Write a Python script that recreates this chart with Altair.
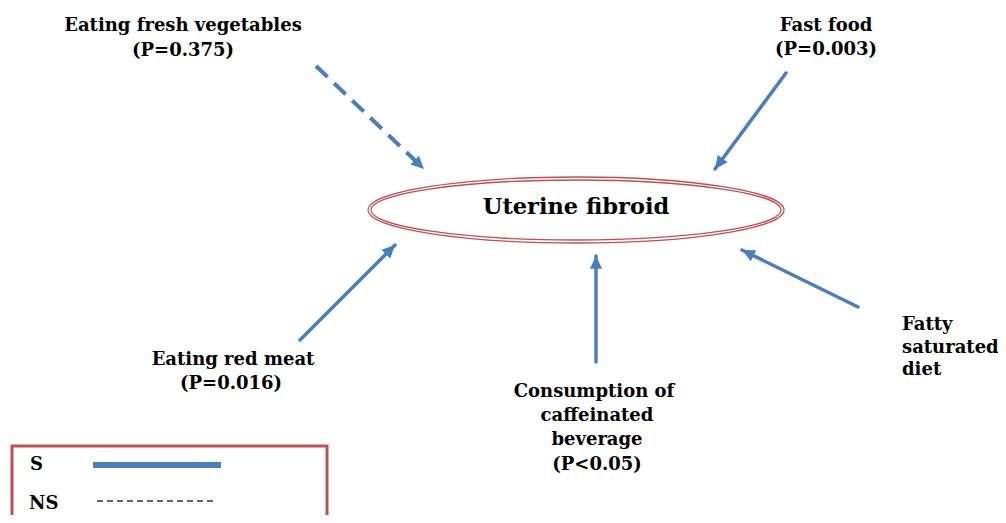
import math
import altair as alt
import pandas as pd

# ---- diagram content (page-pixel coordinates of the reference) ----
arrow_names = ["Eating fresh vegetables", "Fast food", "Fatty saturated diet",
               "Consumption of caffeinated beverage", "Eating red meat"]
arrow_x1 = [316, 786, 858, 596, 300]
arrow_y1 = [66, 73, 307, 362, 340]
arrow_x2 = [424, 715, 742, 596, 395]
arrow_y2 = [169, 169, 250, 256, 245]
arrow_sig = ["NS", "S", "S", "S", "S"]

label_text = ["Eating fresh vegetables", "(P=0.375)", "Fast food", "(P=0.003)",
              "Eating red meat", "(P=0.016)", "Consumption of", "caffeinated",
              "beverage", "(P<0.05)", "Fatty", "saturated", "diet"]
label_x = [183, 183, 826, 826, 233, 231, 594, 597, 597, 597, 902, 902, 902]
label_y = [25.5, 50.5, 25.5, 49.5, 359.5, 383.5, 391.5, 415.5, 439.5, 464.5, 324.5, 347.5, 369.5]
label_align = ["center"] * 10 + ["left"] * 3

center_text = ["Uterine fibroid"]
center_x = [576]
center_y = [207]

legend_keys = ["S", "NS"]
legend_key_x = [30, 29]
legend_key_y = [465, 504]
legend_line_x1 = [93, 97]
legend_line_x2 = [221, 216]
legend_line_y = [465, 501]

BLUE = "#4a7ebf"
RED = "#c0504d"
FONT = "DejaVu Serif"
FS = 18

X = alt.Scale(domain=[8, 998])
Y = alt.Scale(domain=[8, 515], reverse=True)

arrows = pd.DataFrame({"name": arrow_names, "x1": arrow_x1, "y1": arrow_y1,
                       "x2": arrow_x2, "y2": arrow_y2, "sig": arrow_sig})
arrows["angle"] = [
    math.degrees(math.atan2(x2 - x1, -(y2 - y1))) % 360
    for x1, y1, x2, y2 in zip(arrow_x1, arrow_y1, arrow_x2, arrow_y2)
]
labels = pd.DataFrame({"t": label_text, "x": label_x, "y": label_y, "align": label_align})
center = pd.DataFrame({"t": center_text, "x": center_x, "y": center_y})
legend = pd.DataFrame({"k": legend_keys, "x": legend_key_x, "y": legend_key_y,
                       "lx1": legend_line_x1, "lx2": legend_line_x2, "ly": legend_line_y})

enc_xy = dict(x=alt.X("x1:Q", scale=X, axis=None), y=alt.Y("y1:Q", scale=Y, axis=None),
              x2="x2:Q", y2="y2:Q")

solid = alt.Chart(arrows).transform_filter(alt.datum.sig == "S").mark_rule(
    color=BLUE, strokeWidth=3.5, strokeCap="round").encode(**enc_xy)
dashed = alt.Chart(arrows).transform_filter(alt.datum.sig == "NS").mark_rule(
    color=BLUE, strokeWidth=4, strokeDash=[16, 9], strokeCap="butt").encode(**enc_xy)

heads = alt.Chart(arrows).mark_point(
    shape="M0,0 L-1,2.1 L1,2.1 Z", filled=True, color=BLUE, opacity=1, size=150
).encode(x=alt.X("x2:Q", scale=X, axis=None), y=alt.Y("y2:Q", scale=Y, axis=None),
         angle=alt.Angle("angle:Q", scale=None))

ell_df = pd.DataFrame({"x": center_x, "y": [210]})
outer = alt.Chart(ell_df).mark_point(
    shape="M-1,0 A1,0.1587 0 1,1 1,0 A1,0.1587 0 1,1 -1,0 Z",
    filled=False, color=RED, strokeWidth=1.3, opacity=1, size=416 ** 2
).encode(x=alt.X("x:Q", scale=X, axis=None), y=alt.Y("y:Q", scale=Y, axis=None))
inner = alt.Chart(ell_df).mark_point(
    shape="M-1,0 A1,0.1463 0 1,1 1,0 A1,0.1463 0 1,1 -1,0 Z",
    filled=False, color=RED, strokeWidth=1.3, opacity=1, size=410 ** 2
).encode(x=alt.X("x:Q", scale=X, axis=None), y=alt.Y("y:Q", scale=Y, axis=None))

lab_c = alt.Chart(labels).transform_filter(alt.datum.align == "center").mark_text(
    font=FONT, fontWeight="bold", fontSize=FS, align="center", baseline="middle", color="black"
).encode(x=alt.X("x:Q", scale=X, axis=None), y=alt.Y("y:Q", scale=Y, axis=None), text="t:N")
lab_l = alt.Chart(labels).transform_filter(alt.datum.align == "left").mark_text(
    font=FONT, fontWeight="bold", fontSize=FS, align="left", baseline="middle", color="black"
).encode(x=alt.X("x:Q", scale=X, axis=None), y=alt.Y("y:Q", scale=Y, axis=None), text="t:N")

title = alt.Chart(center).mark_text(
    font=FONT, fontWeight="bold", fontSize=22.5, align="center", baseline="middle", color="black"
).encode(x=alt.X("x:Q", scale=X, axis=None), y=alt.Y("y:Q", scale=Y, axis=None), text="t:N")

box = alt.Chart(pd.DataFrame({"x1": [12], "x2": [327], "y1": [446], "y2": [540]})).mark_rect(
    fill=None, stroke=RED, strokeWidth=3, clip=True
).encode(x=alt.X("x1:Q", scale=X, axis=None), x2="x2:Q",
         y=alt.Y("y1:Q", scale=Y, axis=None), y2="y2:Q")

leg_text = alt.Chart(legend).mark_text(
    font=FONT, fontWeight="bold", fontSize=FS, align="left", baseline="middle", color="black"
).encode(x=alt.X("x:Q", scale=X, axis=None), y=alt.Y("y:Q", scale=Y, axis=None), text="k:N")
leg_s = alt.Chart(legend).transform_filter(alt.datum.k == "S").mark_rule(
    color=BLUE, strokeWidth=6).encode(
    x=alt.X("lx1:Q", scale=X, axis=None), x2="lx2:Q", y=alt.Y("ly:Q", scale=Y, axis=None))
leg_ns = alt.Chart(legend).transform_filter(alt.datum.k == "NS").mark_rule(
    color="#333333", strokeWidth=1.5, strokeDash=[6, 4]).encode(
    x=alt.X("lx1:Q", scale=X, axis=None), x2="lx2:Q", y=alt.Y("ly:Q", scale=Y, axis=None))

chart = alt.layer(outer, inner, solid, dashed, heads, lab_c, lab_l, title,
                  box, leg_s, leg_ns, leg_text).properties(
    width=990, height=507, padding=0, autosize=alt.AutoSizeParams(type="none"),
    background="white"
).configure_view(strokeWidth=0)

chart.save("out.html", embed_options={"renderer": "svg", "actions": False})
